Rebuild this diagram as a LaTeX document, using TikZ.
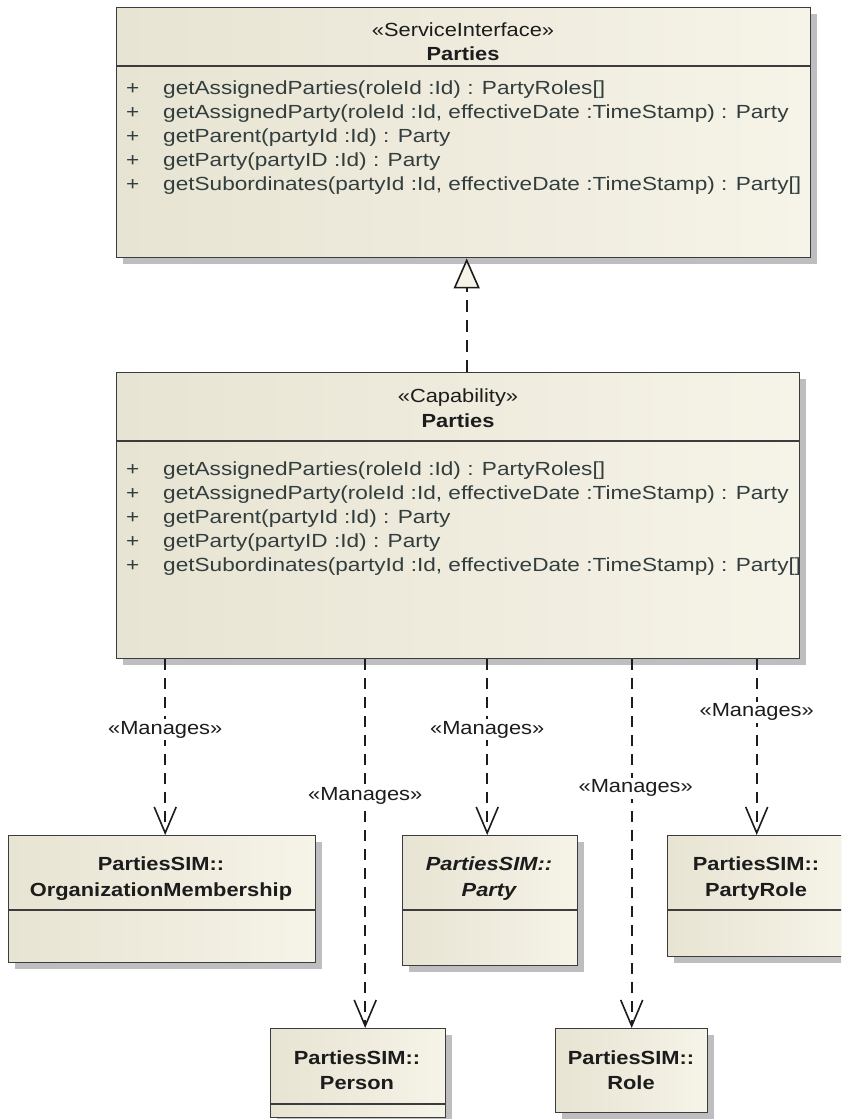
\documentclass[tikz,border=0pt]{standalone}
\usepackage{fontspec}
\setmainfont{Liberation Sans}[FakeStretch=1.15]
\newfontfamily\opfont{Liberation Sans}[FakeStretch=1.19]
\usetikzlibrary{positioning,arrows.meta,shadows}
\definecolor{ink}{RGB}{28,28,28}
\definecolor{opink}{RGB}{50,62,62}
\definecolor{frame}{RGB}{60,60,60}
\definecolor{beigeL}{RGB}{231,228,211}
\definecolor{beigeR}{RGB}{246,243,232}
\definecolor{shade}{RGB}{190,190,192}
\tikzset{
  umlbox/.style={draw=frame, left color=beigeL, right color=beigeR, anchor=north west,
    inner sep=0pt, line width=1.4pt,
    drop shadow={shadow xshift=6pt, shadow yshift=-6pt, fill=shade, opacity=1}},
  head/.style={font=\fontsize{19pt}{24pt}\selectfont, text=ink, inner sep=0pt, anchor=base},
  bhead/.style={head, font=\fontsize{19pt}{24pt}\selectfont\bfseries},
  optext/.style={font=\opfont\fontsize{19pt}{24pt}\selectfont, text=opink, inner sep=0pt,
    anchor=base west},
  sep/.style={draw=frame, line width=1.2pt},
  lbl/.style={font=\fontsize{19pt}{24pt}\selectfont, text=ink, fill=white, inner sep=2pt},
  manages/.style={draw=ink, line width=1.6pt, dash pattern=on 11pt off 8pt,
    -{Straight Barb[length=26pt, width=22pt]}},
  realize/.style={draw=ink, line width=2pt, dash pattern=on 12pt off 8pt,
    -{Triangle[length=30pt, width=26pt, fill=beigeR, line width=1.6pt]}},
}
\newcommand{\partyops}{{getAssignedParties(roleId :Id) : PartyRoles[]},
  {getAssignedParty(roleId :Id, effectiveDate :TimeStamp) : Party},
  {getParent(partyId :Id) : Party},
  {getParty(partyID :Id) : Party},
  {getSubordinates(partyId :Id, effectiveDate :TimeStamp) : Party[]}}

\begin{document}
\begin{tikzpicture}[x=1pt, y=-1pt]
  \path[use as bounding box, clip] (0,0) rectangle (841,1119);
  \fill[white] (0,0) rectangle (841,1119);

  % service interface
  \node[umlbox, minimum width=694pt, minimum height=250pt] (si) at (116,7) {};
  \node[head] (sist) at (463,36) {«ServiceInterface»};
  \node[bhead] (siname) at (463,60) {Parties};
  \draw[sep] ([yshift=-59pt]si.north west) -- ([yshift=-59pt]si.north east);
  \foreach \op [count=\i from 0] in \partyops {
    \node[optext] (siop\i) at (126,94+24.2*\i) {\makebox[37pt][l]{+}\op};
  }

  % capability
  \node[umlbox, minimum width=683pt, minimum height=286pt] (cap) at (116,372) {};
  \node[head] (capst) at (458,402) {«Capability»};
  \node[bhead] (capname) at (458,427) {Parties};
  \draw[sep] ([yshift=-69pt]cap.north west) -- ([yshift=-69pt]cap.north east);
  \foreach \op [count=\i from 0] in \partyops {
    \node[optext] (capop\i) at (126,475+24.2*\i) {\makebox[37pt][l]{+}\op};
  }

  % managed classes
  \node[umlbox, minimum width=307pt, minimum height=127pt] (org) at (8,835) {};
  \node[umlbox, minimum width=175pt, minimum height=130pt] (pty) at (402,835) {};
  \node[umlbox, minimum width=178pt, minimum height=121pt] (prole) at (667,835) {};
  \node[umlbox, minimum width=175pt, minimum height=89pt] (per) at (270,1028) {};
  \node[umlbox, minimum width=152pt, minimum height=84pt] (role) at (555,1028) {};
  \draw[sep] ([yshift=-75pt]org.north west) -- ([yshift=-75pt]org.north east);
  \draw[sep] ([yshift=-75pt]pty.north west) -- ([yshift=-75pt]pty.north east);
  \draw[sep] ([yshift=-75pt]prole.north west) -- ([yshift=-75pt]prole.north east);
  \draw[sep] ([yshift=-76pt]per.north west) -- ([yshift=-76pt]per.north east);
  \node[bhead] (orgt) at (161,870) {PartiesSIM::};
  \node[bhead] (orgn) at (161,896) {OrganizationMembership};
  \node[bhead, font=\fontsize{19pt}{24pt}\selectfont\bfseries\itshape] (ptyt) at (489,870) {PartiesSIM::};
  \node[bhead, font=\fontsize{19pt}{24pt}\selectfont\bfseries\itshape] (ptyn) at (489,896) {Party};
  \node[bhead] (prolet) at (756,870) {PartiesSIM::};
  \node[bhead] (prolen) at (756,896) {PartyRole};
  \node[bhead] (pert) at (357,1064) {PartiesSIM::};
  \node[bhead] (pern) at (357,1089) {Person};
  \node[bhead] (rolet) at (631,1064) {PartiesSIM::};
  \node[bhead] (rolen) at (631,1089) {Role};

  % connectors
  \draw[realize] ([xshift=3pt]cap.north -| si.south) -- ([xshift=3pt]si.south);
  \draw[manages] ([xshift=3pt]cap.south -| org.north) -- node[lbl, pos=0.40] (m1) {«Manages»} ([xshift=3pt]org.north);
  \draw[manages] ([xshift=7pt]cap.south -| per.north) -- node[lbl, pos=0.37] (m2) {«Manages»} ([xshift=7pt]per.north);
  \draw[manages] ([xshift=-3pt]cap.south -| pty.north) -- node[lbl, pos=0.40] (m3) {«Manages»} ([xshift=-3pt]pty.north);
  \draw[manages] (cap.south -| role.north) -- node[lbl, pos=0.35, xshift=4pt] (m4) {«Manages»} (role.north);
  \draw[manages] (cap.south -| prole.north) -- node[lbl, pos=0.30] (m5) {«Manages»} (prole.north);
\end{tikzpicture}
\end{document}
